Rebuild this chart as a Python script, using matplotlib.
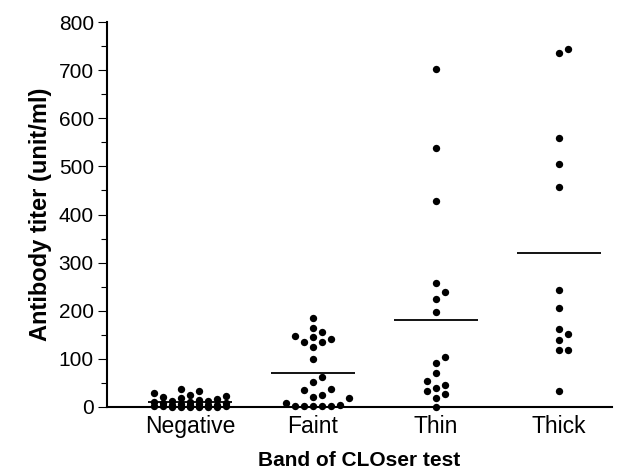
import numpy as np
import matplotlib.pyplot as plt
from matplotlib.ticker import MultipleLocator

plt.rcParams['font.family'] = ['Liberation Sans', 'DejaVu Sans']

# antibody titer (unit/ml) per band group
groups = ["Negative", "Faint", "Thin", "Thick"]
negative = [0, 0, 0, 1, 1, 1, 2, 2, 2, 3, 3, 3, 4, 4, 5, 5, 6, 7, 8, 9,
            10, 11, 12, 13, 15, 17, 19, 21, 23, 25, 29, 34, 37]
faint = [184, 164, 155, 148, 145, 141, 136, 136, 124, 99, 63, 51, 37, 35,
         24, 20, 18, 9, 3, 3, 2, 3, 4, 3]
thin = [703, 539, 428, 258, 238, 224, 198, 103, 92, 70, 55, 46, 39, 34,
        27, 18, 0]
thick = [744, 735, 560, 505, 457, 243, 205, 162, 152, 139, 118, 118, 34]
data = [negative, faint, thin, thick]

fig = plt.figure(figsize=(6.34, 4.76), dpi=100)
ax = fig.add_axes([107/634, 69/476, 505/634, 385/476])
ax.set_xlim(-0.675, 3.43)
ax.set_ylim(0, 800)

# pixels per data unit, used to spread the dots like a column scatter
p0 = ax.transData.transform((0, 0))
p1 = ax.transData.transform((1, 1))
x_scale = p1[0] - p0[0]
y_scale = p1[1] - p0[1]


def swarm_offsets(values, step=9.0, min_dist=8.3, max_k=4):
    values = np.asarray(values, dtype=float)
    slots = [0]
    for k in range(1, max_k + 1):
        slots += [k, -k]
    placed = []
    offsets = np.zeros(len(values))
    for i in np.argsort(values, kind="stable"):
        y = values[i] * y_scale
        best_x, best_d = 0.0, -1.0
        for k in slots:
            x = k * step
            d = min([np.hypot(x - px, y - py) for px, py in placed] or [1e9])
            if d >= min_dist:
                best_x = x
                break
            if d > best_d + 0.5:  # no free slot: take the least crowded one
                best_x, best_d = x, d
        placed.append((best_x, y))
        offsets[i] = best_x / x_scale
    return offsets


for pos, vals in enumerate(data):
    off = swarm_offsets(vals)
    ax.scatter(pos + off, vals, s=28, color='black', linewidths=0,
               zorder=3, clip_on=False)
    ax.hlines(np.mean(vals), pos - 0.34, pos + 0.34, color='black',
              linewidth=1.3, zorder=2)

ax.set_xticks(range(len(groups)))
ax.set_xticklabels(groups, fontsize=16.5)
ax.tick_params(axis='x', length=0, pad=6)

ax.yaxis.set_major_locator(MultipleLocator(100))
ax.yaxis.set_minor_locator(MultipleLocator(50))
ax.tick_params(axis='y', which='major', length=6.5, width=0.8, labelsize=15, pad=3)
ax.tick_params(axis='y', which='minor', length=4, width=0.8)

for side in ['top', 'right']:
    ax.spines[side].set_visible(False)
ax.spines['left'].set_linewidth(1.5)
ax.spines['bottom'].set_linewidth(1.5)

ax.set_ylabel("Antibody titer (unit/ml)", fontsize=17, fontweight='bold', labelpad=5)
ax.set_xlabel("Band of CLOser test", fontsize=15, fontweight='bold', labelpad=9)

fig.savefig("out.png", dpi=100)
